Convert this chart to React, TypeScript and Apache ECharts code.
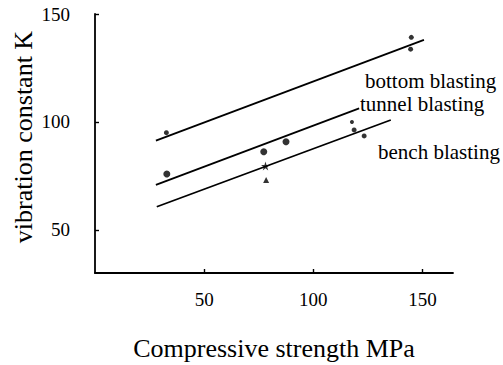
import React, { useEffect, useRef } from "react";
import * as echarts from "echarts";

const xTicks = [50, 100, 150];
const yTicks = [50, 100, 150];

const bottomLine = [[27.9, 91.3], [150.7, 138.0]];
const tunnelLine = [[27.9, 70.8], [121.0, 106.3]];
const benchLine = [[28.3, 60.7], [135.5, 100.9]];

// [x, y, size]
const dots = [
  [32.7, 95.0, 5],
  [32.9, 75.9, 7],
  [77.3, 86.2, 7],
  [87.5, 90.8, 7],
  [117.7, 100.0, 4],
  [118.7, 96.3, 5],
  [123.3, 93.5, 5],
  [144.9, 139.2, 5],
  [144.6, 133.7, 5],
];
const stars = [[78.1, 79.6]];
const triangles = [[78.4, 73.1]];

const lineLabels = ["bottom blasting", "tunnel blasting", "bench blasting"];
const xTitle = "Compressive strength MPa";
const yTitle = "vibration constant K";

const FONT = "Liberation Serif, DejaVu Serif, serif";
const STAR =
  "path://M50,0 L61,35 L98,35 L68,57 L79,91 L50,70 L21,91 L32,57 L2,35 L39,35 Z";

export default function App() {
  const ref = useRef<HTMLDivElement>(null);
  useEffect(() => {
    if (!ref.current) return;
    const chart = echarts.init(ref.current, null, { renderer: "svg" });
    const lineStyle = { color: "#000", width: 1.8 };
    const mkLine = (data: number[][]) => ({
      type: "line",
      data,
      symbol: "none",
      lineStyle,
      silent: true,
    });
    const txt = (text: string, size: number, extra: any) => ({
      type: "text",
      ...extra,
      style: {
        text,
        fontFamily: FONT,
        fontSize: size,
        fill: "#000",
        ...(extra.style || {}),
      },
    });
    chart.setOption({
      animation: false,
      backgroundColor: "#fff",
      grid: { left: 95, top: 14, width: 358, height: 259 },
      xAxis: {
        type: "value",
        min: 0,
        max: 164,
        splitLine: { show: false },
        axisLine: { lineStyle: { color: "#000", width: 1.8 } },
        axisTick: {
          inside: true,
          length: 4,
          customValues: xTicks,
          lineStyle: { color: "#000", width: 1.4 },
        },
        axisLabel: {
          customValues: xTicks,
          color: "#000",
          fontFamily: FONT,
          fontSize: 19,
          margin: 17,
        },
      },
      yAxis: {
        type: "value",
        min: 30,
        max: 150,
        splitLine: { show: false },
        axisLine: { lineStyle: { color: "#000", width: 1.8 } },
        axisTick: {
          inside: true,
          length: 4,
          customValues: yTicks,
          lineStyle: { color: "#000", width: 1.4 },
        },
        axisLabel: {
          customValues: yTicks,
          color: "#000",
          fontFamily: FONT,
          fontSize: 19,
          margin: 25,
          padding: [6, 0, 0, 0],
        },
      },
      series: [
        mkLine(bottomLine),
        mkLine(tunnelLine),
        mkLine(benchLine),
        {
          type: "scatter",
          data: dots.map((d) => [d[0], d[1]]),
          symbol: "circle",
          symbolSize: (_v: any, p: any) => dots[p.dataIndex][2],
          itemStyle: { color: "#000" },
        },
        {
          type: "scatter",
          data: stars,
          symbol: STAR,
          symbolSize: 9,
          itemStyle: { color: "#000" },
        },
        {
          type: "scatter",
          data: triangles,
          symbol: "triangle",
          symbolSize: 6,
          itemStyle: { color: "#000" },
        },
      ],
      graphic: [
        txt(lineLabels[0], 21, { left: 365, top: 70 }),
        txt(lineLabels[1], 21, { left: 360, top: 93 }),
        txt(lineLabels[2], 21, { left: 378, top: 141 }),
        txt(xTitle, 26, {
          x: 274,
          y: 348,
          style: { align: "center", verticalAlign: "middle" },
        }),
        txt(yTitle, 26, {
          x: 23,
          y: 137,
          rotation: Math.PI / 2,
          style: { align: "center", verticalAlign: "middle" },
        }),
      ],
    });
    return () => chart.dispose();
  }, []);
  return <div ref={ref} style={{ width: 503, height: 365, position: "absolute", left: 0, top: 0 }} />;
}
